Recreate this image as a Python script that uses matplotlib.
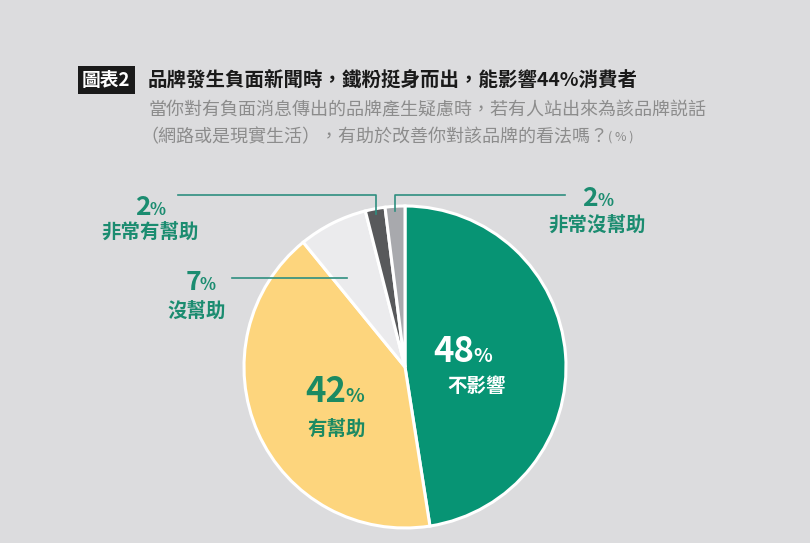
import numpy as np
import matplotlib
matplotlib.use('Agg')
import matplotlib.pyplot as plt

plt.rcParams['font.family'] = ['Noto Sans CJK TC', 'DejaVu Sans']

# data
labels = ['不影響', '有幫助', '沒幫助', '非常有幫助', '非常沒幫助']
values = [48, 42, 7, 2, 2]
colors = ['#079474', '#fdd57d', '#ebebed', '#58595b', '#a8a9ad']

title_tag = '圖表2'
title = '品牌發生負面新聞時，鐵粉挺身而出，能影響44%消費者'
subtitle1 = '當你對有負面消息傳出的品牌產生疑慮時，若有人站出來為該品牌説話'
subtitle2 = '（網路或是現實生活），有助於改善你對該品牌的看法嗎？'

BG = '#dcdcde'
TEAL = '#1b8c70'
LINE = '#2f8f80'
W, H = 810, 543


def Y(y):
    return H - y


fig = plt.figure(figsize=(8.1, 5.43), dpi=100, facecolor=BG)
ax = fig.add_axes([0, 0, 1, 1])
ax.set_facecolor(BG)

cx, cy, r = 405, Y(367), 161
wedges, _ = ax.pie(values, colors=colors, startangle=90, counterclock=False,
                   center=(cx, cy), radius=r,
                   wedgeprops=dict(edgecolor='white', linewidth=2.2))
ax.set_xlim(0, W)
ax.set_ylim(0, H)
ax.set_aspect('equal')
ax.set_axis_off()


def wedge_point(w, frac, rr):
    a = np.deg2rad(w.theta1 + frac * (w.theta2 - w.theta1))
    return cx + rr * r * np.cos(a), cy + rr * r * np.sin(a)


# title
ax.text(82, Y(80), title_tag, color='white', fontsize=13.5, fontweight='bold',
        va='center', ha='left',
        bbox=dict(boxstyle='square,pad=0.22', facecolor='#1a1a1a', edgecolor='none'))
ax.text(148, Y(80), title, color='#1a1a1a', fontsize=14, fontweight='bold',
        va='center', ha='left')
ax.text(148, Y(110), subtitle1, color='#8c8c8c', fontsize=13, fontweight='medium',
        va='center', ha='left')
t2 = ax.text(140, Y(137), subtitle2, color='#8c8c8c', fontsize=13, fontweight='medium',
             va='center', ha='left')
ax.annotate('( % )', xy=(1, 0.5), xycoords=t2, xytext=(0, 0), textcoords='offset points',
            color='#8c8c8c', fontsize=9, va='center', ha='left')


def pct_label(x, y, val, size, psize, color):
    t = ax.text(x, y, str(val), color=color, fontsize=size, fontweight='bold',
                ha='right', va='baseline')
    ax.text(x - 1, y, '%', color=color, fontsize=psize, fontweight='bold',
            ha='left', va='baseline')
    return t


# inside labels
pct_label(474, Y(362), values[0], 25, 14, 'white')
ax.text(477, Y(387), labels[0], color='white', fontsize=14, fontweight='bold',
        ha='center', va='center')
pct_label(346, Y(402), values[1], 25, 14, '#1c8a62')
ax.text(337, Y(430), labels[1], color='#1c8a62', fontsize=14, fontweight='bold',
        ha='center', va='center')

# outside labels
pct_label(151, Y(215), values[3], 19, 12, TEAL)
ax.text(150, Y(233), labels[3], color=TEAL, fontsize=14, fontweight='bold',
        ha='center', va='center')
pct_label(201, Y(290), values[2], 19, 12, TEAL)
ax.text(197, Y(312), labels[2], color=TEAL, fontsize=14, fontweight='bold',
        ha='center', va='center')
pct_label(598, Y(206), values[4], 19, 12, TEAL)
ax.text(597, Y(226), labels[4], color=TEAL, fontsize=14, fontweight='bold',
        ha='center', va='center')

# leader lines
px, py = wedge_point(wedges[3], 0.5, 0.97)
ax.plot([178, px, px], [Y(195), Y(195), py], color=LINE, lw=1.2)
px, py = wedge_point(wedges[4], 0.5, 0.97)
ax.plot([565, px, px], [Y(195), Y(195), py], color=LINE, lw=1.2)
px, py = wedge_point(wedges[2], 0.75, 0.66)
ax.plot([232, px], [py, py], color=LINE, lw=1.2)

fig.savefig('out.png', dpi=100, facecolor=BG)
